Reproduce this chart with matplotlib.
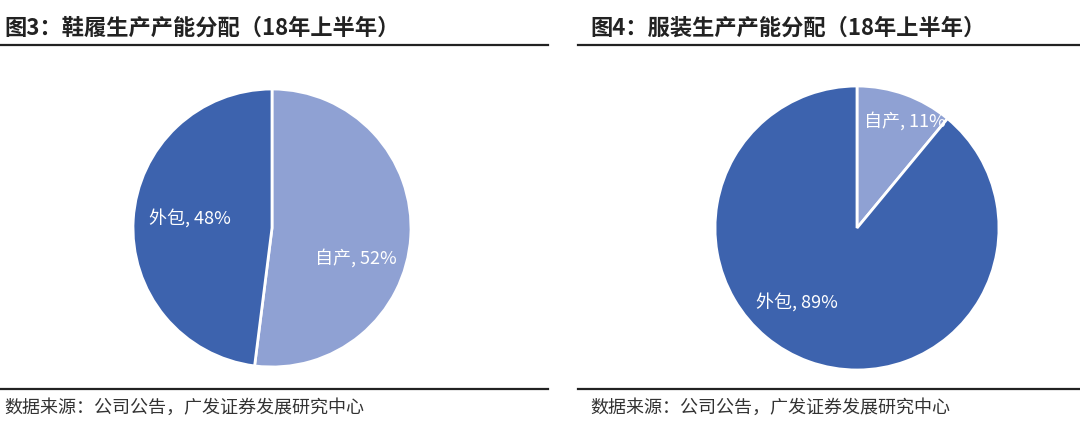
import matplotlib
matplotlib.use("Agg")
import matplotlib.pyplot as plt
from matplotlib.lines import Line2D

plt.rcParams['font.family'] = ['Noto Sans CJK SC', 'DejaVu Sans']

# Data
titles = ["图3：鞋履生产产能分配（18年上半年）", "图4：服装生产产能分配（18年上半年）"]
categories = ["自产", "外包"]
shoes_values = [52, 48]
apparel_values = [11, 89]
source_text = "数据来源：公司公告，广发证券发展研究中心"

light = "#8FA1D3"
dark = "#3D63AE"

W, H = 1080, 421
fig = plt.figure(figsize=(W / 100, H / 100), dpi=100)

def fx(x):
    return x / W

def fy(y):
    return 1 - y / H

def add_pie(cx, cy, r, values, label_pos):
    ax = fig.add_axes([fx(cx - r), fy(cy + r), 2 * r / W, 2 * r / H])
    wedges, _ = ax.pie(values, colors=[light, dark], startangle=90, counterclock=False,
                       radius=1.0, wedgeprops=dict(edgecolor="white", linewidth=2))
    ax.set_xlim(-1.0, 1.0)
    ax.set_ylim(-1.0, 1.0)
    ax.set_aspect("auto")
    ax.axis("off")
    for w in wedges:
        w.set_clip_on(False)
    for cat, val, (lx, ly) in zip(categories, values, label_pos):
        ax.text(lx, ly, f"{cat}, {val}%", color="white", fontsize=13,
                ha="center", va="center")
    return ax

# Left pie: shoes
add_pie(272, 228, 139, shoes_values, [(0.60, -0.22), (-0.59, 0.07)])
# Right pie: apparel
add_pie(857, 228, 142, apparel_values, [(0.34, 0.75), (-0.42, -0.52)])

# Titles
fig.text(fx(4), fy(28), titles[0], fontsize=16, fontweight="bold", color="#222222",
         ha="left", va="center")
fig.text(fx(590), fy(28), titles[1], fontsize=16, fontweight="bold", color="#222222",
         ha="left", va="center")

# Rules
for x0, x1 in [(0, 548), (578, 1080)]:
    fig.add_artist(Line2D([fx(x0), fx(x1)], [fy(45), fy(45)], color="#222222", lw=1.6))
    fig.add_artist(Line2D([fx(x0), fx(x1)], [fy(389), fy(389)], color="#222222", lw=1.6))

# Sources
fig.text(fx(4), fy(408), source_text, fontsize=13, color="#333333", ha="left", va="center")
fig.text(fx(590), fy(408), source_text, fontsize=13, color="#333333", ha="left", va="center")

fig.savefig("out.png", dpi=100, facecolor="white")
